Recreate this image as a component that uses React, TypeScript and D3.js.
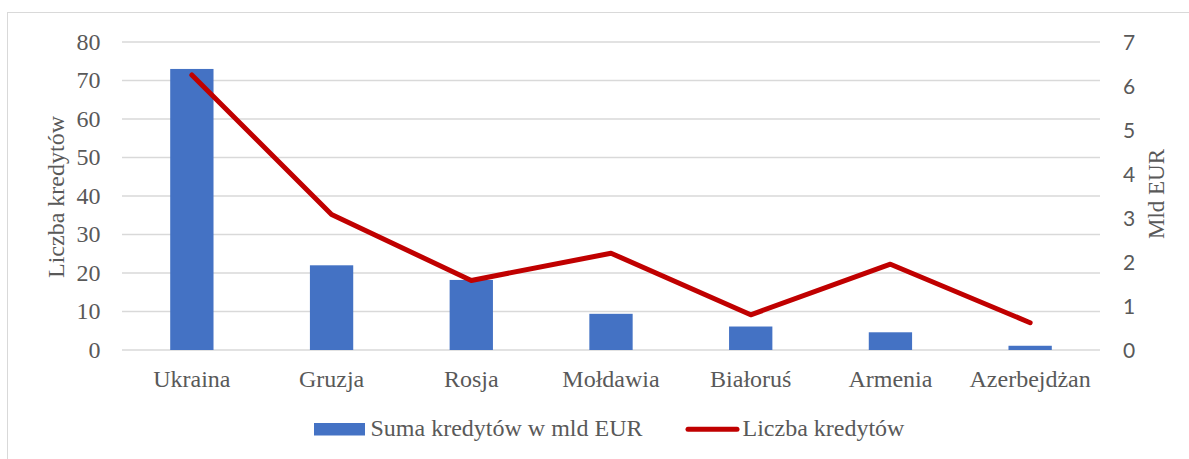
import React from "react";
import * as d3 from "d3";

const categories = ["Ukraina", "Gruzja", "Rosja", "Mołdawia", "Białoruś", "Armenia", "Azerbejdżan"];
const sumaKredytow = [73, 22, 18.2, 9.4, 6.1, 4.6, 1.1];
const liczbaKredytow = [6.25, 3.08, 1.58, 2.2, 0.8, 1.95, 0.62];
const leftTicks = [0, 10, 20, 30, 40, 50, 60, 70, 80];
const rightTicks = [0, 1, 2, 3, 4, 5, 6, 7];

const W = 1189;
const H = 459;
const plotLeft = 122;
const plotRight = 1100;
const plotTop = 42;
const plotBottom = 350;

const serifStyle = { fontFamily: '"Liberation Serif"' };
const sansStyle = { fontFamily: '"Lato"' };
const textColor = "#595959";
const fs = 24;

export default function App() {
  const x = d3.scaleBand<string>().domain(categories).range([plotLeft, plotRight]).paddingInner(0.69).paddingOuter(0.345);
  const xc = (c: string) => (x(c) as number) + x.bandwidth() / 2;
  const yL = d3.scaleLinear().domain([0, 80]).range([plotBottom, plotTop]);
  const yR = d3.scaleLinear().domain([0, 7]).range([plotBottom, plotTop]);
  const line = d3
    .line<number>()
    .x((_, i) => xc(categories[i]))
    .y((d) => yR(d));

  return (
    <svg width={W} height={H} style={{ position: "absolute", left: 0, top: 0, background: "#fff" }}>
      <rect x={7.5} y={12.5} width={W + 20} height={H + 20} fill="#fff" stroke="#d9d9d9" strokeWidth={1} />
      {leftTicks.map((t) => (
        <line key={"g" + t} x1={plotLeft} x2={plotRight} y1={yL(t)} y2={yL(t)} stroke="#d9d9d9" strokeWidth={1.3} />
      ))}
      {leftTicks.map((t) => (
        <text key={"l" + t} x={100.5} y={yL(t)} dy="0.33em" textAnchor="end" style={serifStyle} fontSize={fs} fill={textColor}>
          {t}
        </text>
      ))}
      {rightTicks.map((t) => (
        <text key={"r" + t} x={1123} y={yR(t)} dy="0.36em" textAnchor="start" style={sansStyle} fontSize={21} fill={textColor}>
          {t}
        </text>
      ))}
      {categories.map((c, i) => (
        <rect key={"b" + c} x={x(c)} y={yL(sumaKredytow[i])} width={x.bandwidth()} height={plotBottom - yL(sumaKredytow[i])} fill="#4472C4" />
      ))}
      <path d={line(liczbaKredytow) || ""} fill="none" stroke="#C00000" strokeWidth={5} strokeLinejoin="round" strokeLinecap="round" />
      {categories.map((c) => (
        <text key={"c" + c} x={xc(c)} y={387} textAnchor="middle" style={serifStyle} fontSize={fs} fill={textColor}>
          {c}
        </text>
      ))}
      <text transform={`translate(64,197) rotate(-90)`} textAnchor="middle" style={serifStyle} fontSize={fs} fill={textColor}>
        Liczba kredytów
      </text>
      <text transform={`translate(1164,194) rotate(-90)`} textAnchor="middle" style={serifStyle} fontSize={23} fill={textColor}>
        Mld EUR
      </text>
      <rect x={314} y={423} width={51} height={12.5} fill="#4472C4" />
      <text x={370.5} y={436} style={serifStyle} fontSize={fs} fill={textColor}>
        Suma kredytów w mld EUR
      </text>
      <line x1={688} x2={737} y1={429.3} y2={429.3} stroke="#C00000" strokeWidth={5} strokeLinecap="round" />
      <text x={742.5} y={436} style={serifStyle} fontSize={fs} fill={textColor}>
        Liczba kredytów
      </text>
    </svg>
  );
}
